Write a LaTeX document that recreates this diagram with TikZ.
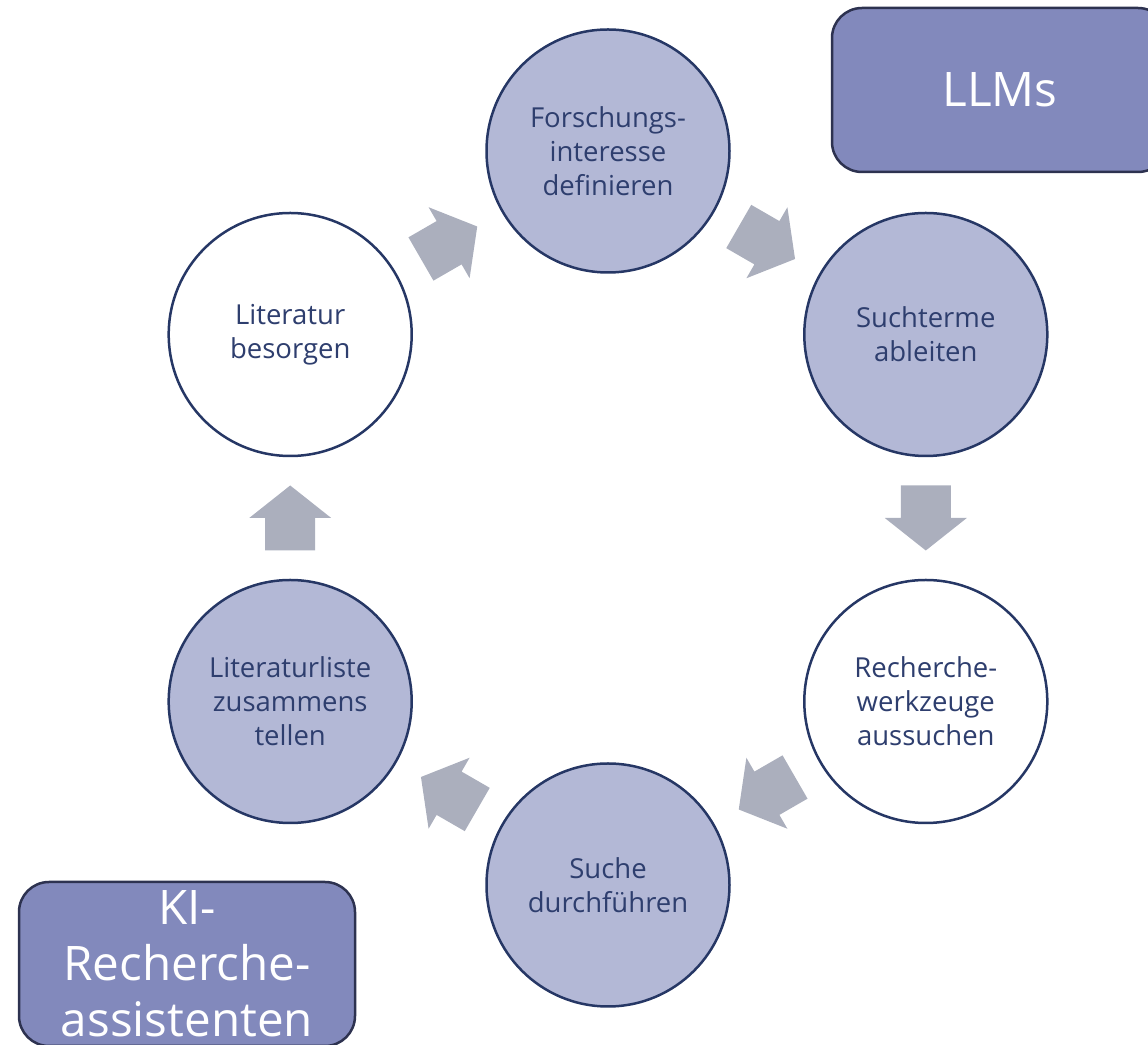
\documentclass[tikz,border=0pt]{standalone}
\usepackage{fontspec}
\setmainfont{Open Sans}
\usetikzlibrary{calc}

\definecolor{ringfill}{RGB}{179,184,214}
\definecolor{ringline}{RGB}{38,55,101}
\definecolor{ringtext}{RGB}{46,62,110}
\definecolor{boxfill}{RGB}{130,137,188}
\definecolor{boxline}{RGB}{45,50,80}
\definecolor{arrowgray}{RGB}{171,175,189}

\begin{document}
\begin{tikzpicture}[x=0.5pt, y=0.5pt,
        phase/.style={circle, draw=ringline, line width=1.25pt, fill=ringfill,
            minimum size=121.5pt, inner sep=0pt, align=center, text=ringtext,
            font=\fontsize{13.75}{17}\selectfont},
        phaseopen/.style={phase, fill=white},
        toolbox/.style={rounded corners=15pt, draw=boxline, line width=1.25pt,
            fill=boxfill, minimum width=168pt, minimum height=82pt, inner sep=0pt},
        toollabel/.style={align=center, text=white, inner sep=0pt,
            font=\fontsize{23.8}{28}\selectfont}]
    \useasboundingbox (0,0) rectangle (1148,1045);
    % the six phases
    \node[phase] (forsch) at (608,894) {Forschungs-\\interesse\\definieren};
    \node[phase] (such) at (925.8,710.5) {Suchterme\\ableiten};
    \node[phaseopen] (werk) at (925.8,343.5) {Recherche-\\werkzeuge\\aussuchen};
    \node[phase] (durch) at (608,160) {Suche\\durchführen};
    \node[phase] (liste) at (290.2,343.5) {Literaturliste\\zusammens\\tellen};
    \node[phaseopen] (besorg) at (290.2,710.5) {Literatur\\besorgen};
    % block arrows between the phases
    \foreach \from/\to/\dir in {forsch/such/-30, such/werk/-90, werk/durch/-150,
            durch/liste/150, liste/besorg/90, besorg/forsch/30}
        \fill[arrowgray, shift={($(\from)!0.5!(\to)$)}, rotate=\dir]
            (-32.5,-25) -- (0,-25) -- (0,-41) -- (32.5,0) -- (0,41) -- (0,25) -- (-32.5,25) -- cycle;
    % tool boxes
    \node[toolbox] (llm) at (1000,955) {};
    \node[toollabel] (llmtext) at (llm) {LLMs};
    \node[toolbox] (ki) at (187,81) {};
    \node[toollabel] (kitext) at (ki) {KI-\\Recherche-\\assistenten};
\end{tikzpicture}
\end{document}
